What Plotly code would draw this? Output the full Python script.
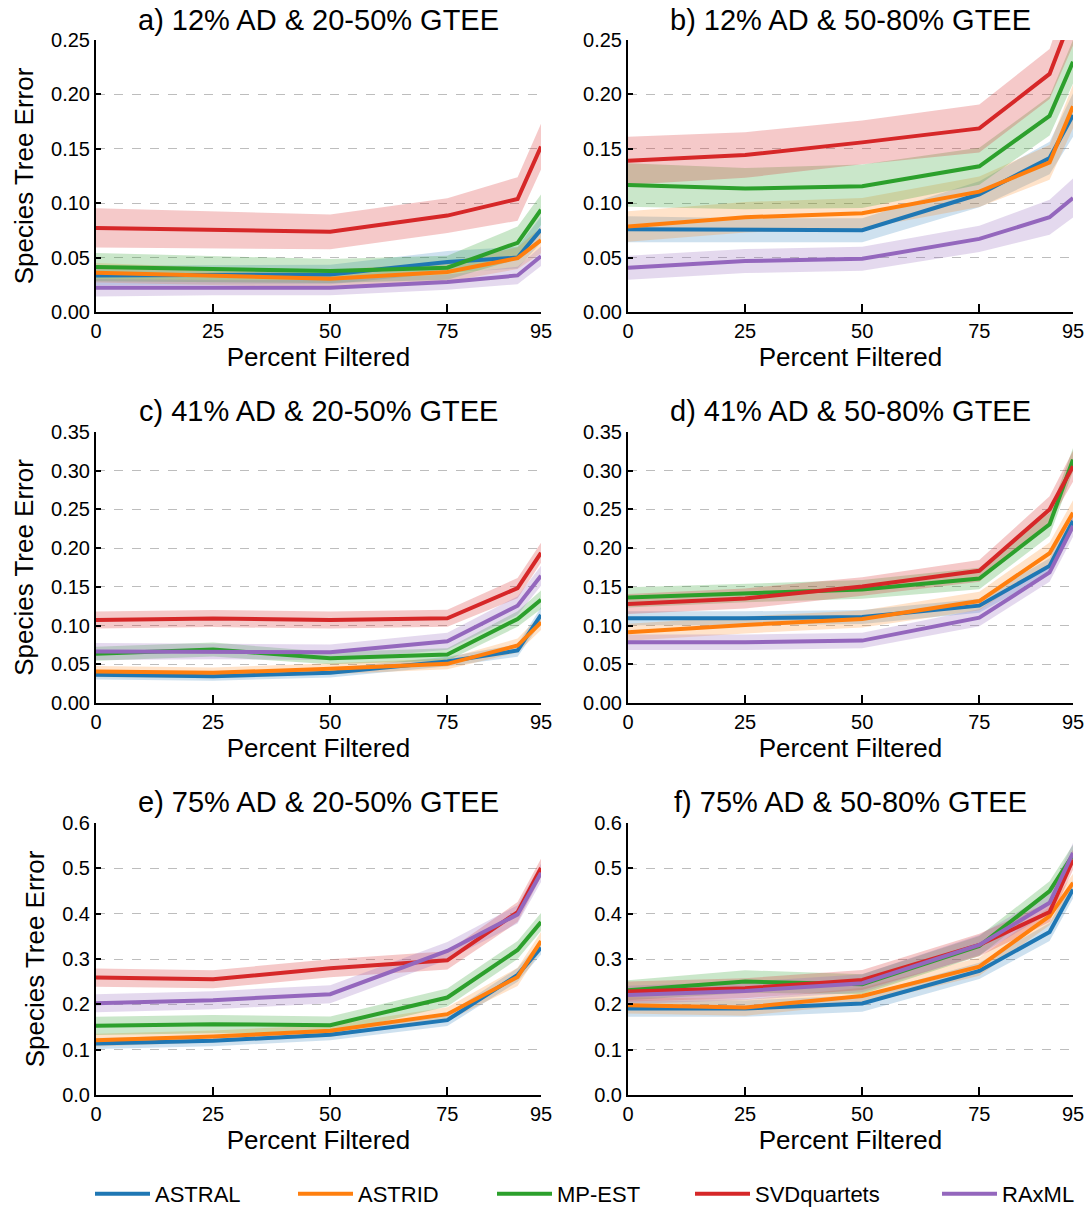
import plotly.graph_objects as go

methods = ["ASTRAL", "ASTRID", "MP-EST", "SVDquartets", "RAxML"]
colors = ["#1f77b4", "#ff7f0e", "#2ca02c", "#d62728", "#9467bd"]
fills = ["rgba(31,119,180,0.22)", "rgba(255,127,14,0.22)", "rgba(44,160,44,0.25)",
         "rgba(214,39,40,0.25)", "rgba(148,103,189,0.25)"]

percent_filtered = [0, 25, 50, 75, 90, 95]
x_ticks = [0, 25, 50, 75, 95]

titles = ["a) 12% AD & 20-50% GTEE", "b) 12% AD & 50-80% GTEE",
          "c) 41% AD & 20-50% GTEE", "d) 41% AD & 50-80% GTEE",
          "e) 75% AD & 20-50% GTEE", "f) 75% AD & 50-80% GTEE"]

# mean species tree error per panel, per method (order = methods)
mean_a = [[0.0336, 0.0340, 0.0345, 0.0460, 0.0500, 0.0758],
          [0.0360, 0.0330, 0.0306, 0.0367, 0.0495, 0.0660],
          [0.0413, 0.0395, 0.0376, 0.0407, 0.0636, 0.0940],
          [0.0773, 0.0755, 0.0737, 0.0886, 0.1039, 0.1520],
          [0.0223, 0.0223, 0.0223, 0.0275, 0.0336, 0.0513]]
mean_b = [[0.0761, 0.0752, 0.0752, 0.1082, 0.1415, 0.1810],
          [0.0785, 0.0871, 0.0908, 0.1106, 0.1375, 0.1890],
          [0.1167, 0.1134, 0.1155, 0.1339, 0.1803, 0.2300],
          [0.1390, 0.1443, 0.1559, 0.1687, 0.2188, 0.2750],
          [0.0406, 0.0468, 0.0489, 0.0672, 0.0871, 0.1048]]
mean_c = [[0.0365, 0.0347, 0.0390, 0.0536, 0.0678, 0.1137],
          [0.0407, 0.0390, 0.0442, 0.0506, 0.0742, 0.1042],
          [0.0635, 0.0690, 0.0579, 0.0626, 0.1085, 0.1334],
          [0.1072, 0.1090, 0.1072, 0.1094, 0.1484, 0.1940],
          [0.0665, 0.0665, 0.0656, 0.0798, 0.1257, 0.1643]]
mean_d = [[0.1094, 0.1094, 0.1111, 0.1257, 0.1771, 0.2350],
          [0.0914, 0.1008, 0.1085, 0.1317, 0.1934, 0.2458],
          [0.1364, 0.1420, 0.1467, 0.1608, 0.2307, 0.3144],
          [0.1278, 0.1350, 0.1505, 0.1707, 0.2500, 0.3058],
          [0.0785, 0.0785, 0.0806, 0.1102, 0.1686, 0.2286]]
mean_e = [[0.1137, 0.1196, 0.1328, 0.1651, 0.2649, 0.3250],
          [0.1210, 0.1291, 0.1416, 0.1783, 0.2605, 0.3397],
          [0.1526, 0.1563, 0.1541, 0.2150, 0.3199, 0.3815],
          [0.2590, 0.2553, 0.2795, 0.2971, 0.4035, 0.5010],
          [0.2025, 0.2091, 0.2223, 0.3177, 0.3984, 0.4900]]
mean_f = [[0.1907, 0.1907, 0.2018, 0.2737, 0.3595, 0.4534],
          [0.1980, 0.1930, 0.2186, 0.2832, 0.3947, 0.4680],
          [0.2311, 0.2502, 0.2443, 0.3287, 0.4497, 0.5300],
          [0.2282, 0.2355, 0.2538, 0.3309, 0.4035, 0.5190],
          [0.2208, 0.2296, 0.2465, 0.3309, 0.4240, 0.5340]]

# half-width of shaded band per panel, per method
band_a = [[0.009, 0.009, 0.009, 0.010, 0.010, 0.012],
          [0.009, 0.008, 0.008, 0.009, 0.010, 0.012],
          [0.013, 0.012, 0.011, 0.011, 0.015, 0.014],
          [0.018, 0.017, 0.016, 0.016, 0.020, 0.021],
          [0.008, 0.007, 0.007, 0.007, 0.008, 0.009]]
band_b = [[0.012, 0.011, 0.011, 0.012, 0.015, 0.020],
          [0.014, 0.014, 0.014, 0.014, 0.016, 0.020],
          [0.020, 0.019, 0.020, 0.017, 0.018, 0.020],
          [0.022, 0.021, 0.020, 0.022, 0.023, 0.030],
          [0.011, 0.011, 0.011, 0.012, 0.016, 0.018]]
band_c = [[0.006, 0.006, 0.006, 0.006, 0.008, 0.010],
          [0.007, 0.007, 0.007, 0.007, 0.009, 0.010],
          [0.009, 0.009, 0.008, 0.008, 0.010, 0.012],
          [0.011, 0.011, 0.011, 0.011, 0.013, 0.013],
          [0.011, 0.010, 0.010, 0.011, 0.012, 0.013]]
band_d = [[0.009, 0.009, 0.009, 0.009, 0.010, 0.012],
          [0.011, 0.011, 0.011, 0.012, 0.014, 0.016],
          [0.013, 0.012, 0.012, 0.014, 0.015, 0.015],
          [0.013, 0.013, 0.012, 0.014, 0.017, 0.020],
          [0.010, 0.010, 0.010, 0.011, 0.012, 0.014]]
band_e = [[0.012, 0.012, 0.012, 0.013, 0.015, 0.015],
          [0.014, 0.013, 0.013, 0.015, 0.020, 0.020],
          [0.020, 0.020, 0.019, 0.020, 0.020, 0.020],
          [0.020, 0.020, 0.020, 0.020, 0.022, 0.020],
          [0.020, 0.020, 0.020, 0.020, 0.020, 0.020]]
band_f = [[0.018, 0.018, 0.018, 0.018, 0.020, 0.020],
          [0.018, 0.018, 0.018, 0.020, 0.020, 0.020],
          [0.022, 0.025, 0.022, 0.022, 0.022, 0.022],
          [0.022, 0.022, 0.022, 0.025, 0.022, 0.022],
          [0.020, 0.020, 0.020, 0.022, 0.022, 0.022]]

means = [mean_a, mean_b, mean_c, mean_d, mean_e, mean_f]
bands = [band_a, band_b, band_c, band_d, band_e, band_f]
y_max = [0.25, 0.25, 0.35, 0.35, 0.6, 0.6]
y_step = [0.05, 0.05, 0.05, 0.05, 0.1, 0.1]
y_fmt = [".2f", ".2f", ".2f", ".2f", ".1f", ".1f"]

W, H = 1087, 1208
col_px = [(96, 541), (628, 1073)]
row_px = [(40, 312), (432, 703), (823, 1095)]

FONT = "Liberation Sans, Arial, sans-serif"
fig = go.Figure()
layout = dict(width=W, height=H, margin=dict(l=0, r=0, t=0, b=0, autoexpand=False),
              plot_bgcolor="white", paper_bgcolor="white",
              font=dict(family=FONT, color="black"), annotations=[])

for p in range(6):
    r, c = divmod(p, 2)
    xa = "x" if p == 0 else f"x{p+1}"
    ya = "y" if p == 0 else f"y{p+1}"
    for m in range(5):
        mu = means[p][m]
        hw = bands[p][m]
        lo = [a - b for a, b in zip(mu, hw)]
        hi = [a + b for a, b in zip(mu, hw)]
        fig.add_trace(go.Scatter(x=percent_filtered, y=lo, mode="lines",
                                 line=dict(width=0, color=fills[m]), showlegend=False,
                                 hoverinfo="skip", xaxis=xa, yaxis=ya))
        fig.add_trace(go.Scatter(x=percent_filtered, y=hi, mode="lines", fill="tonexty",
                                 fillcolor=fills[m], line=dict(width=0, color=fills[m]),
                                 showlegend=False, hoverinfo="skip", xaxis=xa, yaxis=ya))
    for m in range(5):
        tr = dict(x=percent_filtered, y=means[p][m], mode="lines", name=methods[m],
                  line=dict(width=4, color=colors[m]), xaxis=xa, yaxis=ya,
                  showlegend=(p == 0))
        if p == 0:
            tr["legend"] = "legend" if m == 0 else f"legend{m+1}"
        fig.add_trace(go.Scatter(**tr))

    x0, x1 = col_px[c]
    y0, y1 = row_px[r]
    xkey = "xaxis" if p == 0 else f"xaxis{p+1}"
    ykey = "yaxis" if p == 0 else f"yaxis{p+1}"
    layout[xkey] = dict(domain=[x0 / W, x1 / W], anchor=ya, range=[0, 95], automargin=False,
                        tickvals=x_ticks, ticks="inside", ticklen=8, tickwidth=1.5,
                        tickcolor="black", showline=True, linecolor="black", linewidth=2,
                        showgrid=False, zeroline=False,
                        tickfont=dict(size=20, family=FONT),
                        title=dict(text="Percent Filtered", font=dict(size=26, family=FONT),
                                   standoff=6))
    n = int(round(y_max[p] / y_step[p]))
    yv = [round(i * y_step[p], 2) for i in range(n + 1)]
    layout[ykey] = dict(domain=[1 - y1 / H, 1 - y0 / H], anchor=xa, range=[0, y_max[p]],
                        automargin=False,
                        tickvals=yv, tickformat=y_fmt[p], ticks="inside", ticklen=5,
                        tickwidth=1.5, tickcolor="black", showline=True, linecolor="black",
                        linewidth=2, showgrid=True, gridcolor="#bdbdbd", griddash="dash",
                        gridwidth=1, zeroline=False,
                        tickfont=dict(size=20, family=FONT))
    if c == 0:
        layout[ykey]["title"] = dict(text="Species Tree Error",
                                     font=dict(size=26, family=FONT), standoff=10)
    ty = 20 if r == 0 else y0 - 21
    layout["annotations"].append(dict(text=titles[p], x=(x0 + x1) / 2 / W, y=1 - ty / H,
                                      xref="paper", yref="paper", showarrow=False,
                                      xanchor="center", yanchor="middle",
                                      font=dict(size=29, family=FONT)))

legend_x = [90, 293, 492, 690, 937]
for m in range(5):
    key = "legend" if m == 0 else f"legend{m+1}"
    layout[key] = dict(x=legend_x[m] / W, y=1 - 1194 / H, xanchor="left", yanchor="middle",
                       orientation="h", bgcolor="rgba(0,0,0,0)",
                       font=dict(size=22, family=FONT), itemwidth=55)

fig.update_layout(**layout)
fig.write_html("out.html")
